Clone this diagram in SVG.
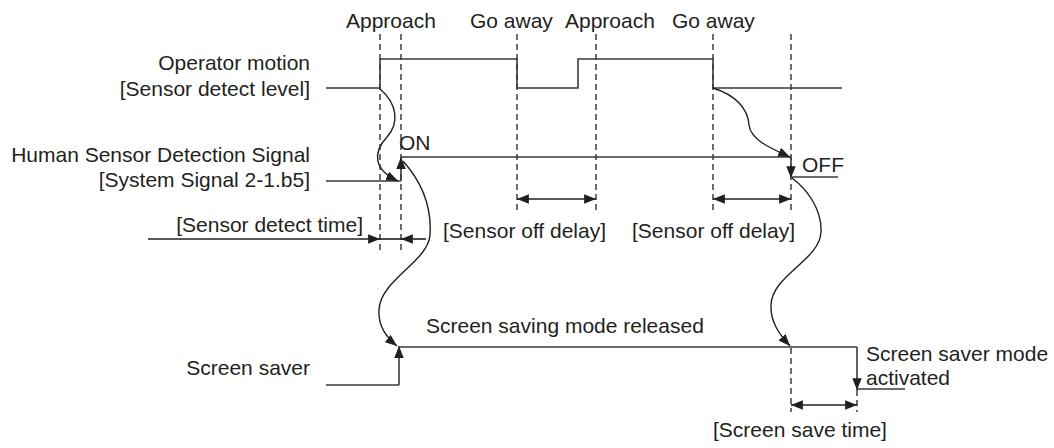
<svg xmlns="http://www.w3.org/2000/svg" width="1054" height="448" viewBox="0 0 1054 448">
  <style>
    text { font-family: "Liberation Sans", Arial, sans-serif; font-size: 21px; fill: #231f20; }
    .end { text-anchor: end; }
    .sig { fill: none; stroke: #3a3a3a; stroke-width: 1.6; }
    .guide { fill: none; stroke: #231f20; stroke-width: 1.3; stroke-dasharray: 6 4; }
    .dim { fill: none; stroke: #231f20; stroke-width: 1.6; }
    .link { fill: none; stroke: #231f20; stroke-width: 1.4; }
  </style>
  <defs>
    <marker id="arrow" viewBox="0 0 10 8" refX="10" refY="4" markerWidth="12" markerHeight="9.5" markerUnits="userSpaceOnUse" orient="auto-start-reverse">
      <path d="M0,0 L10,4 L0,8 z" fill="#231f20"/>
    </marker>
  </defs>
  <rect width="1054" height="448" fill="#ffffff"/>

  <!-- event labels along the top -->
  <g id="events">
    <text x="346" y="28">Approach</text>
    <text x="470" y="28">Go away</text>
    <text x="565" y="28">Approach</text>
    <text x="672" y="28">Go away</text>
  </g>

  <!-- vertical timing guides -->
  <g id="guides">
    <line class="guide" x1="380" y1="34" x2="380" y2="250"/>
    <line class="guide" x1="401" y1="34" x2="401" y2="250"/>
    <line class="guide" x1="517" y1="34" x2="517" y2="210"/>
    <line class="guide" x1="596" y1="34" x2="596" y2="210"/>
    <line class="guide" x1="713" y1="34" x2="713" y2="210"/>
    <line class="guide" x1="791" y1="34" x2="791" y2="210"/>
    <line class="guide" x1="791" y1="348" x2="791" y2="412"/>
    <line class="guide" x1="857" y1="390" x2="857" y2="412"/>
  </g>

  <!-- operator motion waveform -->
  <g id="operator-motion">
    <text class="end" x="310" y="70">Operator motion</text>
    <text class="end" x="310" y="96">[Sensor detect level]</text>
    <polyline class="sig" points="326,88 380,88 380,59 517,59 517,88 578,88 578,59 713,59 713,88 842,88"/>
  </g>

  <!-- human sensor detection signal -->
  <g id="sensor-signal">
    <text class="end" x="310" y="162">Human Sensor Detection Signal</text>
    <text class="end" x="310" y="187">[System Signal 2-1.b5]</text>
    <polyline class="sig" points="326,181 401,181"/>
    <line class="sig" x1="401" y1="181" x2="401" y2="157" marker-end="url(#arrow)"/>
    <polyline class="sig" points="401,157 791,157"/>
    <line class="sig" x1="791" y1="157" x2="791" y2="178" marker-end="url(#arrow)"/>
    <polyline class="sig" points="791,177 838,177"/>
    <text x="399" y="150">ON</text>
    <text x="802" y="172">OFF</text>
  </g>

  <!-- screen saver state -->
  <g id="screen-saver">
    <text class="end" x="310" y="375">Screen saver</text>
    <polyline class="sig" points="326,385 399,385"/>
    <line class="sig" x1="399" y1="385" x2="399" y2="346" marker-end="url(#arrow)"/>
    <polyline class="sig" points="399,347 857,347"/>
    <line class="sig" x1="857" y1="347" x2="857" y2="390" marker-end="url(#arrow)"/>
    <polyline class="sig" points="857,389 905,389"/>
    <text x="426" y="333">Screen saving mode released</text>
    <text x="866" y="361">Screen saver mode</text>
    <text x="866" y="385">activated</text>
  </g>

  <!-- time spans -->
  <g id="spans">
    <line class="dim" x1="148" y1="239" x2="380" y2="239" marker-end="url(#arrow)"/>
    <line class="dim" x1="426" y1="239" x2="401" y2="239" marker-end="url(#arrow)"/>
    <line class="dim" x1="380" y1="239" x2="401" y2="239"/>
    <text class="end" x="363" y="232">[Sensor detect time]</text>
    <line class="dim" x1="517" y1="199" x2="596" y2="199" marker-start="url(#arrow)" marker-end="url(#arrow)"/>
    <text x="443" y="238">[Sensor off delay]</text>
    <line class="dim" x1="713" y1="199" x2="791" y2="199" marker-start="url(#arrow)" marker-end="url(#arrow)"/>
    <text x="632" y="238">[Sensor off delay]</text>
    <line class="dim" x1="791" y1="405" x2="857" y2="405" marker-start="url(#arrow)" marker-end="url(#arrow)"/>
    <text x="713" y="437">[Screen save time]</text>
  </g>

  <!-- cause/effect connectors -->
  <g id="connectors">
    <path class="link" d="M380,89 C398,104 399,124 387,137 C372,153 374,170 398,181" marker-end="url(#arrow)"/>
    <path class="link" d="M403,161 C420,180 432,205 430,235 C428,262 380,280 379,310 C378,326 387,338 397,346" marker-end="url(#arrow)"/>
    <path class="link" d="M713,88 C735,95 748,108 749,125 C751,140 770,148 790,157" marker-end="url(#arrow)"/>
    <path class="link" d="M792,178 C808,190 822,210 821,232 C820,260 772,275 771,305 C770,322 780,335 790,346" marker-end="url(#arrow)"/>
  </g>
</svg>
